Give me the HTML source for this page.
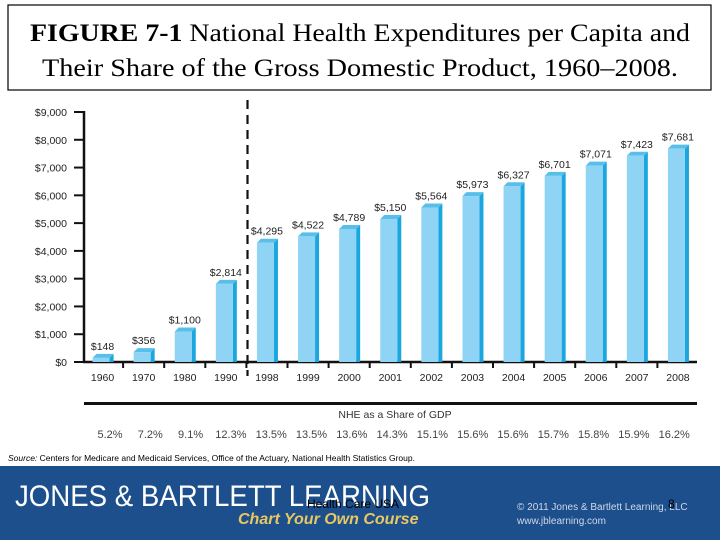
<!DOCTYPE html>
<html><head><meta charset="utf-8"><style>
html,body{margin:0;padding:0;background:#fff;}
svg{display:block;}
.sans{font-family:"Liberation Sans",Arial,sans-serif;}
.serif{font-family:"Liberation Serif","Times New Roman",serif;}
</style></head><body>
<svg id="chart" width="720" height="540" viewBox="0 0 720 540" xmlns="http://www.w3.org/2000/svg">
  <rect x="8" y="5" width="703" height="85" fill="#fff" stroke="#000" stroke-width="1.2"/>
  <text class="serif" x="360" y="41" font-size="25" text-anchor="middle" textLength="660" lengthAdjust="spacingAndGlyphs"><tspan font-weight="bold">FIGURE 7-1</tspan> National Health Expenditures per Capita and</text>
  <text class="serif" x="360" y="76" font-size="25" text-anchor="middle" textLength="636" lengthAdjust="spacingAndGlyphs">Their Share of the Gross Domestic Product, 1960–2008.</text>
  <g id="plot"></g>
  <text class="sans" x="8" y="461" font-size="8.5"><tspan font-style="italic">Source:</tspan> Centers for Medicare and Medicaid Services, Office of the Actuary, National Health Statistics Group.</text>
  <rect x="0" y="466" width="720" height="74" fill="#1d4f8c"/>
  <text class="sans" x="15" y="506" font-size="30" fill="#fff" textLength="415" lengthAdjust="spacingAndGlyphs">JONES &amp; BARTLETT LEARNING</text>
  <text class="sans" x="238" y="524" font-size="16" font-weight="bold" font-style="italic" fill="#e8c860">Chart Your Own Course</text>
  <text class="sans" x="307" y="508" font-size="12" fill="#000">Health Care USA</text>
  <text class="sans" x="517" y="510" font-size="10" fill="#cfd8e8">© 2011 Jones &amp; Bartlett Learning, LLC</text>
  <text class="sans" x="517" y="524" font-size="10" fill="#cfd8e8">www.jblearning.com</text>
  <text class="sans" x="668" y="508" font-size="12" fill="#000">8</text>
</svg>
<script>
const categories = ["1960","1970","1980","1990","1998","1999","2000","2001","2002","2003","2004","2005","2006","2007","2008"];
const values = [148,356,1100,2814,4295,4522,4789,5150,5564,5973,6327,6701,7071,7423,7681];
const valueLabels = ["$148","$356","$1,100","$2,814","$4,295","$4,522","$4,789","$5,150","$5,564","$5,973","$6,327","$6,701","$7,071","$7,423","$7,681"];
const gdpShares = ["5.2%","7.2%","9.1%","12.3%","13.5%","13.5%","13.6%","14.3%","15.1%","15.6%","15.6%","15.7%","15.8%","15.9%","16.2%"];
const yTicks = [0,1000,2000,3000,4000,5000,6000,7000,8000,9000];
const yTickLabels = ["$0","$1,000","$2,000","$3,000","$4,000","$5,000","$6,000","$7,000","$8,000","$9,000"];

const NS = "http://www.w3.org/2000/svg";
const g = document.getElementById('plot');
const left = 82, band = 41.1, y0 = 362, yTop = 112, yMax = 9000;
const yScale = v => y0 - (v / yMax) * (y0 - yTop);
const xCenter = i => left + band * (i + 0.5);
function mk(tag, attrs, text) {
  const e = document.createElementNS(NS, tag);
  for (const k in attrs) e.setAttribute(k, attrs[k]);
  if (text !== undefined) e.textContent = text;
  g.appendChild(e);
  return e;
}
yTicks.forEach((v, i) => {
  const t = mk('text', {x: 67, y: yScale(v) + 4, 'font-size': 10.5, 'text-anchor': 'end', class: 'sans', fill: '#222'}, yTickLabels[i]);
  
  
  const l = mk('line', {x1: 74, x2: 84, y1: yScale(v), y2: yScale(v), stroke: '#111', 'stroke-width': 2});
  
  
});
const ya = mk('line', {x1: 84, x2: 84, y1: yTop - 1, y2: y0 + 1, stroke: '#111', 'stroke-width': 2.5});


const xa = mk('line', {x1: 83, x2: 697, y1: y0, y2: y0, stroke: '#111', 'stroke-width': 2.5});


categories.forEach((c, i) => {
  const cx = xCenter(i), y = yScale(values[i]);
  const bx = cx - 10, bw = 17, d = 4;
  const side = mk('polygon', {points: `${bx+bw},${y} ${bx+bw+d},${y-d} ${bx+bw+d},${y0} ${bx+bw},${y0}`, fill: '#1aa6df'});
  
  
  const top = mk('polygon', {points: `${bx},${y} ${bx+d},${y-d} ${bx+bw+d},${y-d} ${bx+bw},${y}`, fill: '#58bfea'});
  
  
  const r = mk('rect', {x: bx, y: y, width: bw, height: y0 - y, fill: '#8fd4f4'});
  
  
  const lab = mk('text', {x: cx, y: y - 8, 'font-size': 10.5, 'text-anchor': 'middle', class: 'sans', fill: '#222'}, valueLabels[i]);
  
  
  const xl = mk('text', {x: cx, y: 381, 'font-size': 10.5, 'text-anchor': 'middle', class: 'sans', fill: '#222'}, c);
  
  
  if (i > 0) {
    const tk = mk('line', {x1: left + band * i, x2: left + band * i, y1: y0, y2: y0 + 6, stroke: '#111', 'stroke-width': 2});
    
    
  }
  const p = mk('text', {x: 110 + i * 40.3, y: 438, 'font-size': 11, 'text-anchor': 'middle', class: 'sans', fill: '#444'}, gdpShares[i]);
  
  
});
const dash = mk('line', {x1: 247.5, x2: 247.5, y1: 100, y2: 376, stroke: '#111', 'stroke-width': 2.2, 'stroke-dasharray': '9,6'});


const rule = mk('line', {x1: 84, x2: 697, y1: 403.5, y2: 403.5, stroke: '#111', 'stroke-width': 3});


const gt = mk('text', {x: 395, y: 418, 'font-size': 10.5, 'text-anchor': 'middle', class: 'sans', fill: '#333'}, 'NHE as a Share of GDP');


</script>
</body></html>
